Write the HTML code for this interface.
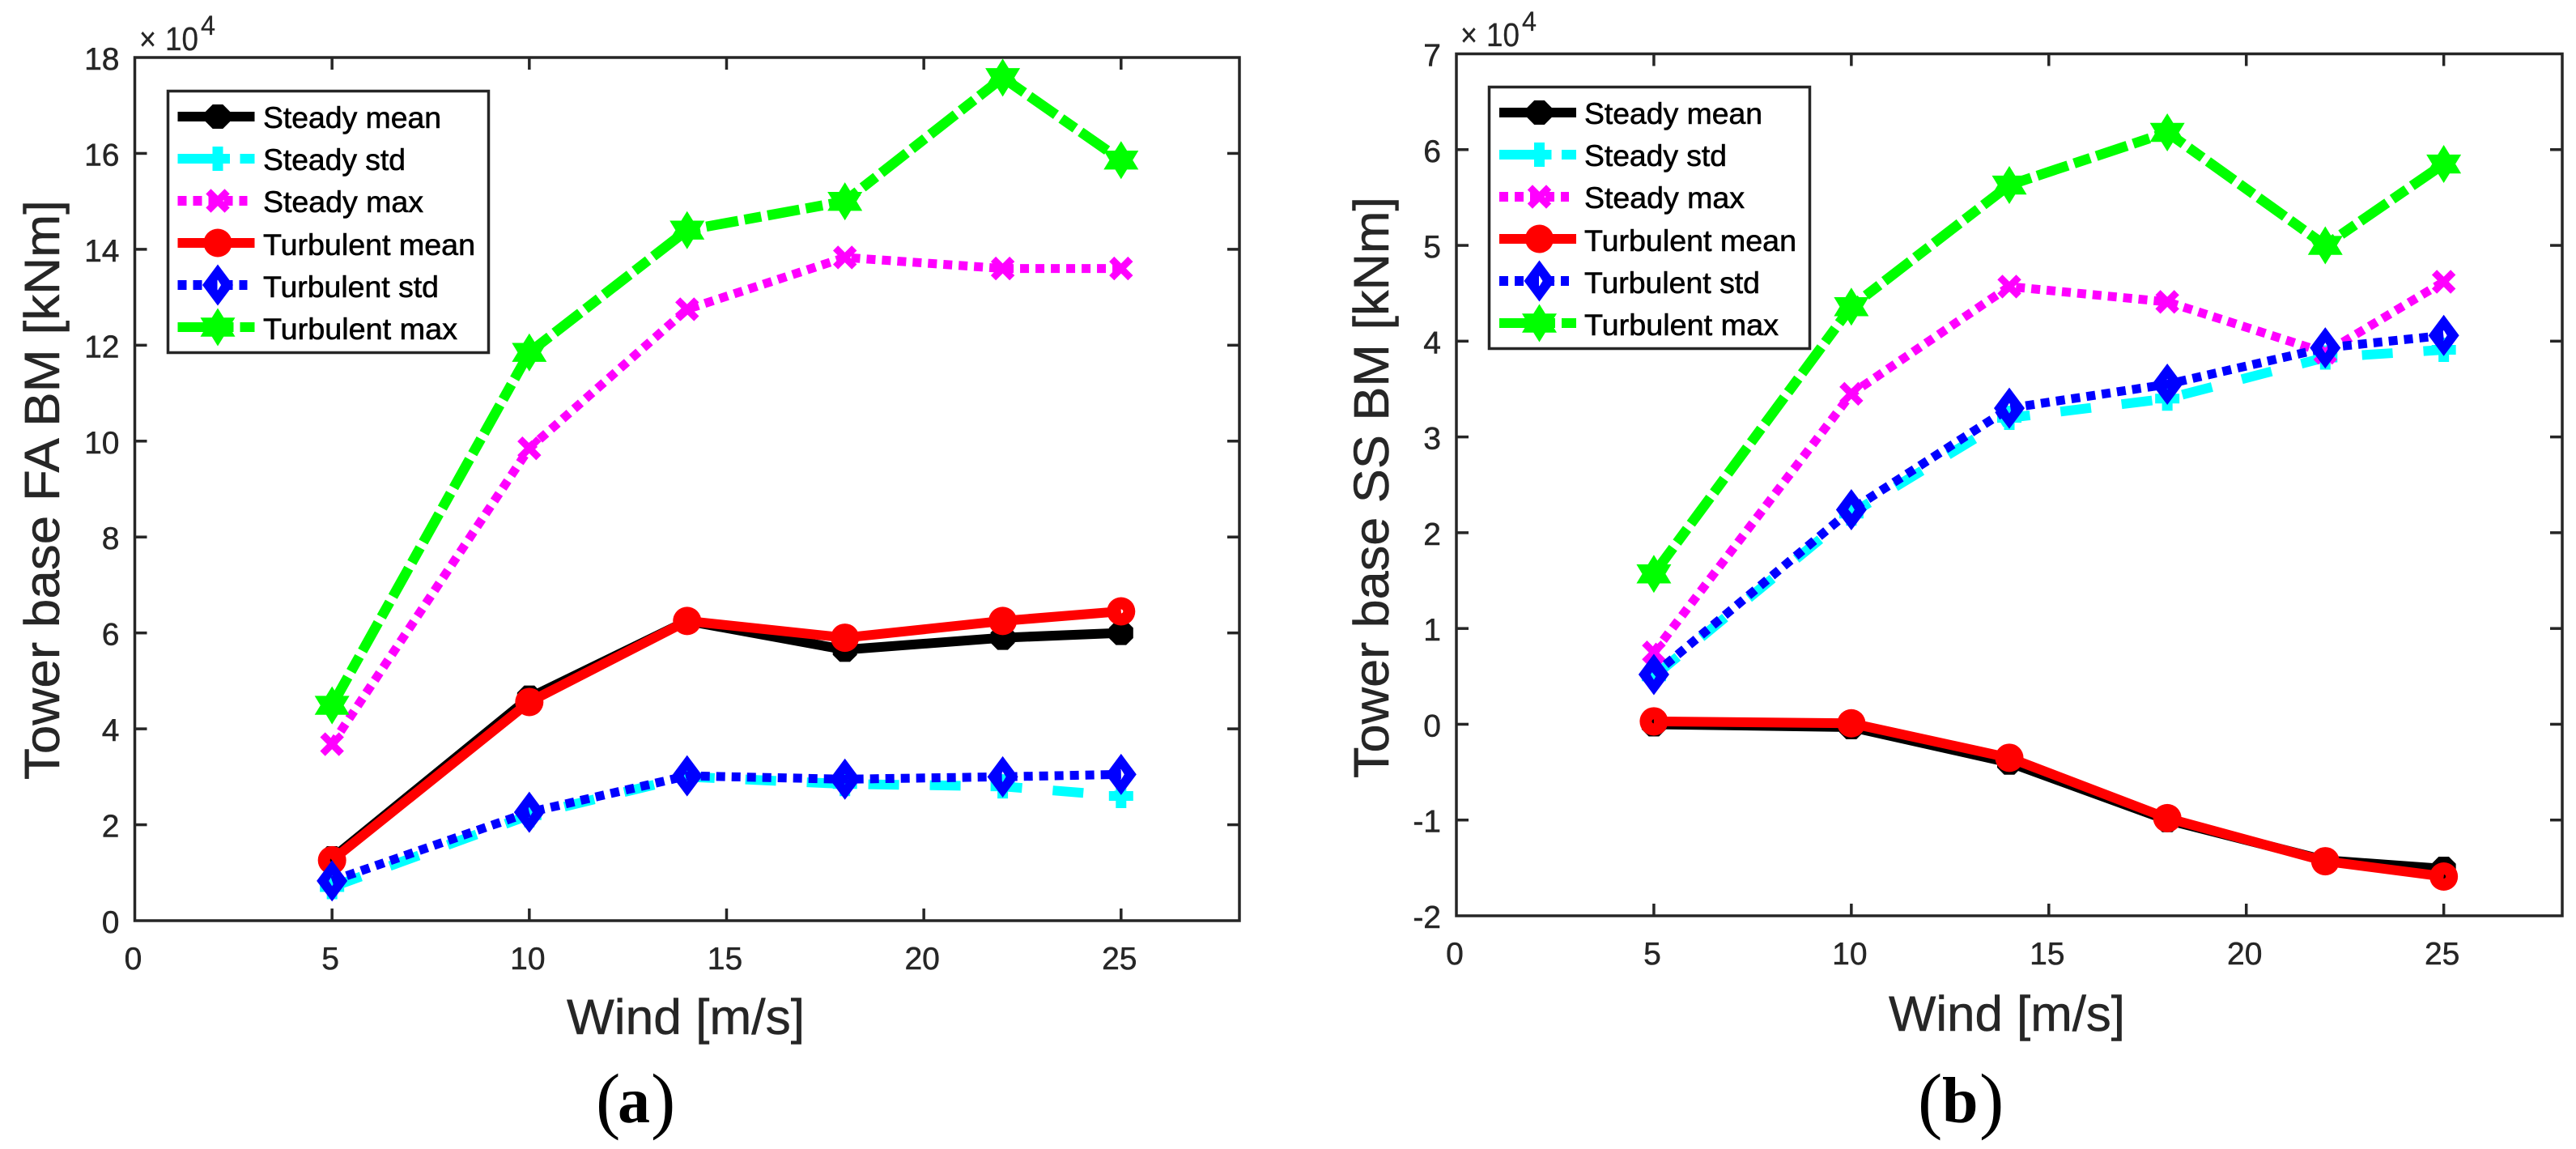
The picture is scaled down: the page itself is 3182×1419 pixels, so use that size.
<!DOCTYPE html>
<html lang="en">
<head>
<meta charset="utf-8">
<title>Tower base bending moments versus wind speed</title>
<style>
html,body{margin:0;padding:0;background:#fff;width:3182px;height:1419px;overflow:hidden}
svg{display:block}
text{font-family:"Liberation Sans",sans-serif}
.tick{font-size:39px;fill:#262626;stroke:#262626;stroke-width:.5px}
.title{font-size:61px;fill:#262626;stroke:#262626;stroke-width:.5px}
.exp{fill:#262626;stroke:#262626;stroke-width:.3px}
.leg{font-size:37px;fill:#000;stroke:#000;stroke-width:.6px}
.cap{font-family:"Liberation Serif",serif;fill:#000}
</style>
</head>
<body>
<svg xmlns="http://www.w3.org/2000/svg" width="3182" height="1419" viewBox="0 0 3182 1419">
  <rect x="0" y="0" width="3182" height="1419" fill="#fff"/>

  <g id="panel-a">
    <g id="a-axes"></g>
    <g id="a-plot"></g>
    <text class="exp" x="172" y="62" font-size="41" textLength="21" lengthAdjust="spacingAndGlyphs">×</text>
    <text class="exp" x="204" y="62" font-size="41" textLength="41" lengthAdjust="spacingAndGlyphs">10</text>
    <text class="exp" x="248" y="43" font-size="34" textLength="18" lengthAdjust="spacingAndGlyphs">4</text>
    <text class="title" x="847" y="1277" text-anchor="middle" textLength="294" lengthAdjust="spacingAndGlyphs">Wind [m/s]</text>
    <text class="title" transform="translate(73,605) rotate(-90)" text-anchor="middle" textLength="716" lengthAdjust="spacingAndGlyphs">Tower base FA BM [kNm]</text>
    <g>
      <rect x="207.5" y="112.5" width="396" height="323" fill="#fff" stroke="#262626" stroke-width="3.5"/>
      <g id="a-legend-keys"></g>
      <text class="leg" x="325" y="158" textLength="220" lengthAdjust="spacingAndGlyphs">Steady mean</text>
      <text class="leg" x="325" y="210" textLength="176" lengthAdjust="spacingAndGlyphs">Steady std</text>
      <text class="leg" x="325" y="262" textLength="198" lengthAdjust="spacingAndGlyphs">Steady max</text>
      <text class="leg" x="325" y="315" textLength="262" lengthAdjust="spacingAndGlyphs">Turbulent mean</text>
      <text class="leg" x="325" y="367" textLength="217" lengthAdjust="spacingAndGlyphs">Turbulent std</text>
      <text class="leg" x="325" y="419" textLength="240" lengthAdjust="spacingAndGlyphs">Turbulent max</text>
    </g>
    <text class="cap"><tspan x="736" y="1389" font-size="91">(</tspan><tspan x="763" y="1386" font-size="80" font-weight="bold">a</tspan><tspan x="804" y="1389" font-size="91">)</tspan></text>
  </g>

  <g id="panel-b">
    <g id="b-axes"></g>
    <g id="b-plot"></g>
    <text class="exp" x="1804" y="57" font-size="41" textLength="21" lengthAdjust="spacingAndGlyphs">×</text>
    <text class="exp" x="1836" y="57" font-size="41" textLength="41" lengthAdjust="spacingAndGlyphs">10</text>
    <text class="exp" x="1880" y="38" font-size="34" textLength="18" lengthAdjust="spacingAndGlyphs">4</text>
    <text class="title" x="2479" y="1273" text-anchor="middle" textLength="292" lengthAdjust="spacingAndGlyphs">Wind [m/s]</text>
    <text class="title" transform="translate(1715,602) rotate(-90)" text-anchor="middle" textLength="718" lengthAdjust="spacingAndGlyphs">Tower base SS BM [kNm]</text>
    <g>
      <rect x="1839.5" y="107.5" width="396" height="323" fill="#fff" stroke="#262626" stroke-width="3.5"/>
      <g id="b-legend-keys"></g>
      <text class="leg" x="1957" y="153" textLength="220" lengthAdjust="spacingAndGlyphs">Steady mean</text>
      <text class="leg" x="1957" y="205" textLength="176" lengthAdjust="spacingAndGlyphs">Steady std</text>
      <text class="leg" x="1957" y="257" textLength="198" lengthAdjust="spacingAndGlyphs">Steady max</text>
      <text class="leg" x="1957" y="310" textLength="262" lengthAdjust="spacingAndGlyphs">Turbulent mean</text>
      <text class="leg" x="1957" y="362" textLength="217" lengthAdjust="spacingAndGlyphs">Turbulent std</text>
      <text class="leg" x="1957" y="414" textLength="240" lengthAdjust="spacingAndGlyphs">Turbulent max</text>
    </g>
    <text class="cap"><tspan x="2369" y="1389" font-size="91">(</tspan><tspan x="2399" y="1386" font-size="80" font-weight="bold">b</tspan><tspan x="2445" y="1389" font-size="91">)</tspan></text>
  </g>
</svg>

<script>
// Shared data
const windSpeeds = [5, 10, 14, 18, 22, 25];
const xTickLabels = [0, 5, 10, 15, 20, 25];

// Panel (a): tower base fore-aft bending moment, in units of 10^4 kNm
const aYTickLabels = [0, 2, 4, 6, 8, 10, 12, 14, 16, 18];
const aSteadyMean = [1.3, 4.65, 6.25, 5.65, 5.9, 6.0];
const aSteadyStd = [0.7, 2.2, 3.0, 2.85, 2.8, 2.6];
const aSteadyMax = [3.68, 9.85, 12.75, 13.83, 13.6, 13.6];
const aTurbulentMean = [1.26, 4.56, 6.25, 5.9, 6.25, 6.45];
const aTurbulentStd = [0.83, 2.26, 3.02, 2.95, 3.0, 3.05];
const aTurbulentMax = [4.49, 11.85, 14.4, 15.0, 17.58, 15.86];

// Panel (b): tower base side-side bending moment, in units of 10^4 kNm
const bYTickLabels = [-2, -1, 0, 1, 2, 3, 4, 5, 6, 7];
const bSteadyMean = [0.0, -0.03, -0.4, -1.0, -1.42, -1.51];
const bSteadyStd = [0.5, 2.2, 3.2, 3.4, 3.83, 3.91];
const bSteadyMax = [0.75, 3.45, 4.57, 4.41, 3.88, 4.62];
const bTurbulentMean = [0.03, 0.01, -0.35, -0.98, -1.43, -1.59];
const bTurbulentStd = [0.52, 2.24, 3.3, 3.55, 3.93, 4.06];
const bTurbulentMax = [1.57, 4.36, 5.63, 6.18, 5.0, 5.85];

const NS = 'http://www.w3.org/2000/svg';

function make(tag, attrs, parent) {
  const el = document.createElementNS(NS, tag);
  for (const k in attrs) el.setAttribute(k, attrs[k]);
  parent.appendChild(el);
  return el;
}

function octagonPath(cx, cy, r) {
  const c = r * 0.42;
  return 'M' + (cx - c) + ' ' + (cy - r) + 'L' + (cx + c) + ' ' + (cy - r) +
    'L' + (cx + r) + ' ' + (cy - c) + 'L' + (cx + r) + ' ' + (cy + c) +
    'L' + (cx + c) + ' ' + (cy + r) + 'L' + (cx - c) + ' ' + (cy + r) +
    'L' + (cx - r) + ' ' + (cy + c) + 'L' + (cx - r) + ' ' + (cy - c) + 'Z';
}

function circlePath(cx, cy, r) {
  return 'M' + (cx - r) + ' ' + cy + 'A' + r + ' ' + r + ' 0 1 0 ' + (cx + r) + ' ' + cy +
    'A' + r + ' ' + r + ' 0 1 0 ' + (cx - r) + ' ' + cy + 'Z';
}

function diamondPath(cx, cy, w, h) {
  return 'M' + cx + ' ' + (cy - h) + 'L' + (cx + w) + ' ' + cy + 'L' + cx + ' ' + (cy + h) +
    'L' + (cx - w) + ' ' + cy + 'Z';
}

function markerPath(kind, cx, cy) {
  if (kind === 'octagon') return octagonPath(cx, cy, 15);
  if (kind === 'ring') return circlePath(cx, cy, 17.5) + circlePath(cx, cy, 2.5);
  if (kind === 'diamond') return diamondPath(cx, cy, 19, 25.5) + diamondPath(cx, cy, 4, 6.5);
  if (kind === 'plus') {
    return 'M' + (cx - 6.5) + ' ' + (cy - 15) + 'h13v9h8.5v12h-8.5v9h-13v-9h-8.5v-12h8.5Z';
  }
  if (kind === 'cross') {
    const a = 14.7, b = 6.2;
    return 'M' + (cx - a) + ' ' + (cy - a + b) + 'L' + (cx - a + b) + ' ' + (cy - a) +
      'L' + cx + ' ' + (cy - b) + 'L' + (cx + a - b) + ' ' + (cy - a) +
      'L' + (cx + a) + ' ' + (cy - a + b) + 'L' + (cx + b) + ' ' + cy +
      'L' + (cx + a) + ' ' + (cy + a - b) + 'L' + (cx + a - b) + ' ' + (cy + a) +
      'L' + cx + ' ' + (cy + b) + 'L' + (cx - a + b) + ' ' + (cy + a) +
      'L' + (cx - a) + ' ' + (cy + a - b) + 'L' + (cx - b) + ' ' + cy + 'Z';
  }
  // six-pointed star
  return 'M' + cx + ' ' + (cy - 23.5) + 'L' + (cx + 7.3) + ' ' + (cy - 11.7) +
    'L' + (cx + 21.5) + ' ' + (cy - 11.7) + 'L' + (cx + 14.4) + ' ' + cy +
    'L' + (cx + 21.5) + ' ' + (cy + 11.7) + 'L' + (cx + 7.3) + ' ' + (cy + 11.7) +
    'L' + cx + ' ' + (cy + 23.5) + 'L' + (cx - 7.3) + ' ' + (cy + 11.7) +
    'L' + (cx - 21.5) + ' ' + (cy + 11.7) + 'L' + (cx - 14.4) + ' ' + cy +
    'L' + (cx - 21.5) + ' ' + (cy - 11.7) + 'L' + (cx - 7.3) + ' ' + (cy - 11.7) + 'Z';
}

const styleSteadyMean = { slug: 'steady-mean', color: '#000000', width: 12, dash: 'none', marker: 'octagon', keyDash: 'none', keyLen: 95 };
const styleSteadyStd = { slug: 'steady-std', color: '#00ffff', width: 12, dash: '38 38', marker: 'plus', keyDash: '64 13 19 0', keyLen: 95 };
const styleSteadyMax = { slug: 'steady-max', color: '#ff00ff', width: 11, dash: '11 8', marker: 'cross', keyDash: '11 8', keyLen: 86 };
const styleTurbulentMean = { slug: 'turbulent-mean', color: '#ff0000', width: 12, dash: 'none', marker: 'ring', keyDash: 'none', keyLen: 95 };
const styleTurbulentStd = { slug: 'turbulent-std', color: '#0000ff', width: 11, dash: '11 8', marker: 'diamond', keyDash: '11 8', keyLen: 86 };
const styleTurbulentMax = { slug: 'turbulent-max', color: '#00ff00', width: 12.5, dash: '40 8 21 8', marker: 'star', keyDash: '69 8 19 0', keyLen: 95 };

function drawPanel(prefix, frame, yTicks, seriesList, legendFrame) {
  const xScale = (v) => frame.left + (v - frame.xMin) / (frame.xMax - frame.xMin) * (frame.right - frame.left);
  const yScale = (v) => frame.bottom - (v - frame.yMin) / (frame.yMax - frame.yMin) * (frame.bottom - frame.top);
  const axes = document.getElementById(prefix + '-axes');
  const plot = document.getElementById(prefix + '-plot');
  const keys = document.getElementById(prefix + '-legend-keys');
  const inkColor = '#262626';

  const frameRect = make('rect', { x: frame.left, y: frame.top, width: frame.right - frame.left, height: frame.bottom - frame.top, fill: 'none', stroke: inkColor, 'stroke-width': 3.5 }, axes);
  
  

  xTickLabels.forEach((v) => {
    const x = xScale(v);
    if (v !== frame.xMin) {
      const bottomTick = make('line', { x1: x, x2: x, y1: frame.bottom, y2: frame.bottom - 15, stroke: inkColor, 'stroke-width': 3.5 }, axes);
      
      
      const topTick = make('line', { x1: x, x2: x, y1: frame.top, y2: frame.top + 15, stroke: inkColor, 'stroke-width': 3.5 }, axes);
      
      
    }
    const label = make('text', { x: x - 2, y: frame.xLabelY, 'text-anchor': 'middle', class: 'tick' }, axes);
    
    
    label.textContent = String(v);
  });

  yTicks.forEach((v) => {
    const y = yScale(v);
    if (v !== frame.yMin && v !== frame.yMax) {
      const leftTick = make('line', { x1: frame.left, x2: frame.left + 15, y1: y, y2: y, stroke: inkColor, 'stroke-width': 3.5 }, axes);
      
      
      const rightTick = make('line', { x1: frame.right, x2: frame.right - 15, y1: y, y2: y, stroke: inkColor, 'stroke-width': 3.5 }, axes);
      
      
    }
    const label = make('text', { x: frame.left - 19, y: y + 15, 'text-anchor': 'end', class: 'tick' }, axes);
    
    
    label.textContent = String(v);
  });

  seriesList.forEach((s) => {
    const group = make('g', {}, plot);
    
    
    const pts = s.values.map((v, i) => xScale(windSpeeds[i]) + ',' + yScale(v)).join(' ');
    const line = make('polyline', { points: pts, fill: 'none', stroke: s.style.color, 'stroke-width': s.style.width, 'stroke-dasharray': s.style.dash, 'stroke-linejoin': 'round' }, group);
    
    
    s.values.forEach((v, i) => {
      const mark = make('path', { d: markerPath(s.style.marker, xScale(windSpeeds[i]), yScale(v)), fill: s.style.color, 'fill-rule': 'evenodd' }, group);
      
      
    });
  });

  seriesList.forEach((s, i) => {
    const y = legendFrame.rows[i];
    const keyLine = make('line', { x1: legendFrame.lineStart, x2: legendFrame.lineStart + s.style.keyLen, y1: y, y2: y, stroke: s.style.color, 'stroke-width': 12, 'stroke-dasharray': s.style.keyDash }, keys);
    
    
    const keyMark = make('path', { d: markerPath(s.style.marker, legendFrame.lineStart + 49.5, y), fill: s.style.color, 'fill-rule': 'evenodd' }, keys);
    
    
  });
}

drawPanel('a',
  { left: 166.5, right: 1531, top: 71, bottom: 1137, xMin: 0, xMax: 28, yMin: 0, yMax: 18, xLabelY: 1197 },
  aYTickLabels,
  [
    { style: styleSteadyMean, values: aSteadyMean },
    { style: styleSteadyStd, values: aSteadyStd },
    { style: styleSteadyMax, values: aSteadyMax },
    { style: styleTurbulentMean, values: aTurbulentMean },
    { style: styleTurbulentStd, values: aTurbulentStd },
    { style: styleTurbulentMax, values: aTurbulentMax }
  ],
  { lineStart: 219.5, rows: [144, 196, 248, 300, 352, 404] }
);

drawPanel('b',
  { left: 1799, right: 3165, top: 66.5, bottom: 1131, xMin: 0, xMax: 28, yMin: -2, yMax: 7, xLabelY: 1191 },
  bYTickLabels,
  [
    { style: styleSteadyMean, values: bSteadyMean },
    { style: styleSteadyStd, values: bSteadyStd },
    { style: styleSteadyMax, values: bSteadyMax },
    { style: styleTurbulentMean, values: bTurbulentMean },
    { style: styleTurbulentStd, values: bTurbulentStd },
    { style: styleTurbulentMax, values: bTurbulentMax }
  ],
  { lineStart: 1852, rows: [139, 191, 243, 295, 347, 399] }
);
</script>
</body>
</html>
